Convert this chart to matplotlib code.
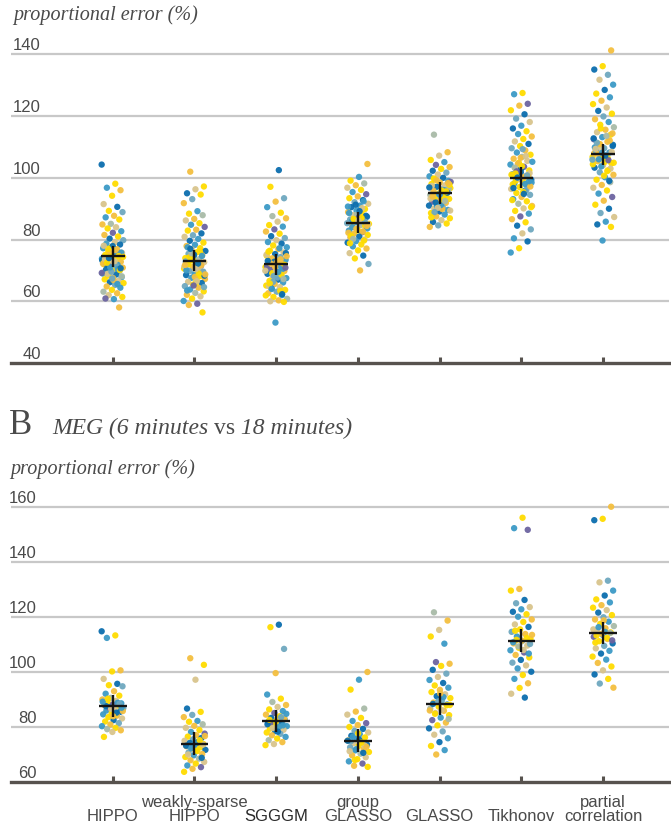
import matplotlib
matplotlib.use("Agg")
import matplotlib.pyplot as plt
import numpy as np
from matplotlib import transforms

# ---------------- data ----------------
categories = ["HIPPO", "weakly-sparse\nHIPPO", "SGGGM", "group\nGLASSO", "GLASSO", "Tikhonov", "partial\ncorrelation"]

# Panel A (top): proportional error (%) per method
A_hippo = [104.3, 98.1, 96.8, 96.0, 94.2, 91.5, 90.6, 89.3, 88.9, 87.7, 87.2, 86.5, 85.1, 84.9, 84.0, 83.6,
           82.7, 82.2, 81.5, 81.0, 80.3, 79.8, 79.1, 78.7, 78.4, 77.6, 77.2, 76.9, 76.1, 75.7, 75.4, 75.0,
           74.6, 74.1, 73.8, 73.5, 73.1, 72.8, 72.3, 72.0, 71.8, 71.3, 70.9, 70.6, 70.2, 69.9, 69.4, 69.0,
           68.7, 68.3, 67.8, 67.5, 67.1, 66.6, 66.2, 65.9, 65.3, 64.8, 64.4, 63.7, 63.1, 62.6, 62.0, 61.4,
           60.7, 60.9, 58.0, 74.9, 73.3, 71.6, 68.9, 75.8, 77.9, 72.6, 70.4,
           76.3, 74.4, 73.0, 71.9, 70.1, 69.6, 72.2, 75.3, 77.0, 68.1, 66.9, 73.7, 74.7, 71.0, 69.2, 76.6,
           72.5, 70.7, 67.4, 78.0, 65.6, 74.0]
A_wshippo = [102.0, 97.2, 96.3, 95.0, 94.6, 93.1, 91.8, 89.2, 88.4, 87.9, 86.7, 86.2, 85.3, 84.8, 84.1, 83.2,
             82.9, 82.0, 81.4, 80.9, 80.2, 79.6, 79.0, 78.3, 77.9, 77.2, 76.8, 76.3, 75.9, 75.4, 74.9, 74.5,
             74.0, 73.6, 73.2, 72.7, 72.4, 71.9, 71.5, 71.1, 70.6, 70.3, 69.8, 69.4, 68.9, 68.5, 68.1, 67.6,
             67.2, 66.8, 66.3, 65.9, 65.4, 64.9, 64.4, 63.8, 63.2, 62.7, 62.1, 61.6, 60.9, 60.1, 59.2, 58.8,
             56.4, 75.1, 72.9, 70.8, 73.9, 68.3, 66.0, 77.5, 71.7,
             73.4, 71.3, 72.2, 74.3, 69.6, 67.9, 70.0, 76.0, 75.6, 68.7, 66.5, 72.0, 74.7, 65.1, 71.8, 69.0,
             77.0, 64.6, 70.4, 63.5]
A_sgggm = [102.5, 97.1, 93.4, 92.3, 90.5, 88.7, 87.6, 86.9, 85.8, 84.7, 84.2, 83.3, 82.6, 81.9, 81.1, 80.5,
           79.8, 79.2, 78.7, 78.1, 77.5, 76.9, 76.4, 75.8, 75.3, 74.8, 74.3, 73.9, 73.4, 72.9, 72.5, 72.0,
           71.6, 71.1, 70.7, 70.2, 69.8, 69.3, 68.9, 68.4, 67.9, 67.5, 67.0, 66.6, 66.1, 65.6, 65.1, 64.6,
           64.2, 63.7, 63.1, 62.6, 62.0, 61.4, 60.8, 60.3, 60.0, 59.8, 53.1, 71.4, 73.6, 69.1, 75.6, 67.7,
           64.9, 70.5, 72.8, 61.9, 77.2,
           72.2, 71.8, 70.0, 73.1, 68.6, 66.3, 74.6, 69.5, 65.8, 67.2, 71.2, 75.1, 63.4, 64.0, 70.9, 72.6,
           76.1, 62.3, 68.2, 69.9]
A_gglasso = [104.5, 100.3, 99.1, 98.2, 97.6, 96.8, 96.1, 95.4, 94.7, 94.0, 93.4, 92.8, 92.1, 91.6, 91.0, 90.5,
             89.9, 89.4, 88.9, 88.4, 87.9, 87.4, 86.9, 86.5, 86.0, 85.6, 85.1, 84.7, 84.2, 83.8, 83.3, 82.9,
             82.4, 81.9, 81.5, 81.0, 80.5, 80.0, 79.5, 79.0, 78.4, 77.8, 77.1, 76.5, 75.6, 74.8, 73.9, 72.1,
             70.0, 85.9, 84.5, 88.1, 82.2, 90.2, 86.7, 83.6, 87.2, 80.8, 79.7, 91.3,
             85.3, 86.2, 84.0, 87.7, 83.0, 88.6, 82.6, 86.4, 84.9, 89.2, 81.2, 85.8, 83.5, 90.7, 87.0, 80.2,
             84.4, 86.1, 78.8, 92.4]
A_glasso = [114.0, 108.3, 107.2, 105.8, 105.1, 104.2, 103.5, 102.9, 102.3, 101.7, 101.1, 100.5, 100.0, 99.5,
            99.0, 98.5, 98.0, 97.6, 97.1, 96.7, 96.2, 95.8, 95.4, 94.9, 94.5, 94.1, 93.6, 93.2, 92.8, 92.3,
            91.9, 91.4, 91.0, 90.5, 90.1, 89.6, 89.1, 88.6, 88.1, 87.5, 86.9, 86.3, 85.7, 85.2, 84.6, 84.1,
            95.1, 93.9, 96.5, 92.6, 97.4, 94.3, 90.8, 98.7, 89.9, 99.8,
            95.2, 94.7, 93.3, 96.0, 92.0, 97.8, 91.2, 94.0, 95.6, 90.3, 96.9, 93.0, 88.9, 98.3, 94.6, 87.2,
            92.5, 99.2, 89.4, 95.9]
A_tikhonov = [127.5, 127.1, 124.0, 123.4, 121.9, 120.6, 119.2, 118.1, 116.9, 116.0, 115.1, 114.2, 113.4, 112.6,
              111.8, 111.0, 110.3, 109.6, 108.9, 108.2, 107.5, 106.8, 106.2, 105.5, 104.9, 104.3, 103.6, 103.0,
              102.4, 101.8, 101.2, 100.6, 100.0, 99.4, 98.8, 98.2, 97.6, 97.0, 96.4, 95.8, 95.1, 94.5, 93.8,
              93.1, 92.4, 91.6, 90.9, 90.1, 89.3, 88.4, 87.5, 86.6, 85.6, 84.5, 83.3, 82.0, 80.4, 79.4, 77.2,
              75.8, 100.3, 99.1, 101.5, 102.9, 97.9, 96.1, 104.6, 98.5, 95.4, 103.3,
              100.4, 99.7, 101.0, 98.0, 102.1, 97.2, 103.8, 96.7, 100.8, 99.9, 105.2, 94.8, 101.4, 98.9,
              106.5, 92.8, 107.1, 100.1, 90.5, 109.3]
A_partial = [141.3, 136.2, 135.1, 133.4, 131.8, 130.2, 128.5, 127.3, 126.1, 125.0, 123.9, 122.8, 121.7, 120.8,
             119.9, 119.0, 118.1, 117.2, 116.4, 115.6, 114.8, 114.0, 113.2, 112.5, 111.7, 111.0, 110.3, 109.6,
             108.9, 108.2, 107.5, 106.8, 106.1, 105.4, 104.7, 104.0, 103.3, 102.5, 101.8, 101.0, 100.2, 99.4,
             98.6, 97.7, 96.8, 95.9, 94.9, 93.8, 92.6, 91.3, 90.0, 88.6, 87.3, 85.8, 84.9, 84.1, 79.7, 107.9,
             106.4, 109.2, 110.7, 105.1, 108.6, 112.1, 103.7, 104.4, 113.6,
             107.7, 108.4, 106.6, 109.9, 105.7, 110.9, 104.9, 107.2, 111.4, 103.0, 108.1, 112.8, 102.2, 106.0,
             114.4, 100.7, 109.4, 99.0, 116.0, 105.9]
A_means = [74.6, 73.2, 72.0, 85.5, 95.0, 100.1, 107.6]
A_err = [3.4, 3.4, 3.4, 3.4, 3.5, 3.5, 3.5]

# Panel B (bottom): MEG (6 minutes vs 18 minutes)
B_hippo = [114.8, 113.3, 112.4, 100.6, 100.2, 97.5, 95.7, 95.2, 94.8, 93.0, 92.1, 91.4, 90.6, 90.0, 89.5, 89.0,
           88.6, 88.2, 87.9, 87.5, 87.2, 86.8, 86.4, 86.0, 85.5, 85.0, 84.6, 84.1, 83.6, 83.1, 82.5, 82.0,
           81.4, 80.9, 80.3, 79.7, 79.2, 78.8, 78.2, 76.4, 88.8, 87.1, 85.8, 84.3,
           87.6, 88.4, 86.6, 89.2, 85.2, 90.3, 87.0, 83.9]
B_wshippo = [105.0, 102.6, 97.2, 86.7, 85.5, 84.4, 83.6, 82.2, 81.9, 81.0, 80.4, 79.7, 78.9, 78.2, 77.6, 77.0,
             76.5, 76.0, 75.5, 75.0, 74.6, 74.2, 73.8, 73.4, 73.0, 72.6, 72.1, 71.7, 71.2, 70.7, 70.2, 69.7,
             69.1, 68.5, 67.9, 67.3, 66.7, 66.0, 65.4, 64.8, 63.7, 74.4, 72.9, 73.6,
             74.0, 73.2, 75.2, 72.3, 76.7, 71.4, 70.0, 68.8]
B_sgggm = [117.2, 116.3, 108.4, 99.6, 91.8, 90.3, 89.1, 88.0, 87.3, 86.4, 85.8, 85.1, 84.5, 83.9, 83.3, 82.8,
           82.3, 81.8, 81.3, 80.8, 80.3, 79.9, 79.4, 79.0, 78.5, 78.0, 77.5, 77.0, 76.4, 75.8, 75.2, 74.5,
           73.8, 73.4, 80.1, 81.6, 82.9,
           82.0, 81.0, 83.6, 79.6, 84.8, 78.3, 82.6, 80.6]
B_gglasso = [100.0, 97.2, 93.6, 86.7, 85.6, 84.5, 83.3, 82.2, 81.4, 80.7, 80.0, 79.3, 78.6, 78.0, 77.4, 76.8,
             76.2, 75.7, 75.1, 74.6, 74.1, 73.6, 73.1, 72.6, 72.0, 71.5, 70.9, 70.3, 69.7, 69.0, 68.3, 67.5,
             66.7, 65.9, 65.5, 75.4, 74.8, 73.3, 71.9,
             75.0, 74.3, 76.5, 72.8, 77.7, 71.2, 70.6, 68.0]
B_glasso = [121.7, 118.7, 115.3, 112.9, 110.3, 103.6, 103.0, 102.2, 100.8, 99.4, 98.2, 97.1, 96.0, 95.1, 94.3,
            93.5, 92.7, 91.9, 91.2, 90.5, 89.7, 88.9, 88.2, 87.4, 86.7, 85.9, 85.1, 84.3, 83.4, 82.5, 81.6,
            80.6, 79.5, 78.4, 77.2, 75.9, 74.5, 73.1, 71.6, 70.0, 88.0, 86.2,
            88.4, 87.9, 89.3, 86.0, 90.9, 84.8, 82.9, 92.2]
B_tikhonov = [156.1, 152.3, 151.7, 130.2, 129.6, 126.2, 125.0, 123.6, 122.8, 121.9, 121.0, 120.1, 119.1, 118.2,
              117.3, 116.4, 115.5, 114.6, 113.8, 112.9, 112.0, 111.2, 110.4, 109.6, 108.8, 107.9, 107.1, 106.2,
              105.3, 104.4, 103.4, 102.4, 101.3, 100.1, 98.9, 97.5, 95.9, 94.2, 92.1, 90.7, 111.7, 110.2,
              111.4, 110.8, 112.4, 109.3, 113.5, 108.0, 115.0, 106.7]
B_partial = [160.1, 155.7, 155.2, 133.2, 132.6, 129.6, 127.8, 126.4, 125.3, 124.3, 123.4, 122.5, 121.6, 120.7,
             119.9, 119.1, 118.3, 117.5, 116.7, 115.9, 115.1, 114.4, 113.6, 112.8, 112.0, 111.2, 110.4, 109.5,
             108.6, 107.7, 106.7, 105.6, 104.5, 103.3, 102.0, 100.6, 99.1, 97.5, 95.8, 94.3, 114.6, 113.3,
             114.2, 113.9, 115.5, 112.4, 116.3, 111.5, 118.8, 110.7]
B_means = [87.7, 74.0, 82.2, 75.0, 88.3, 111.4, 114.2]
B_err = [4.0, 4.2, 4.0, 4.1, 4.1, 4.3, 4.0]

A_ticks = [40, 60, 80, 100, 120, 140]
B_ticks = [60, 80, 100, 120, 140, 160]

# ---------------- style ----------------
point_colors = ['#0b6eae', '#3c9ac6', '#ffdc00', '#f4bf3f', '#d8c48c', '#6fa8bf', '#a9bba8', '#6c64a0']
color_seq = [0, 2, 1, 3, 2, 4, 0, 2, 5, 3, 1, 2, 6, 3, 4, 2, 1, 7, 3, 2, 0, 5, 4, 1]
grid_c = '#c8c8c8'
spine_c = '#57524e'
text_c = '#4a4a4a'
SANS = ['Liberation Sans', 'DejaVu Sans']
SERIF = ['Liberation Serif', 'DejaVu Serif']

W, H = 671, 825
fig = plt.figure(figsize=(W / 100, H / 100), dpi=100)


def px_axes(left, top, right, bottom):
    return [left / W, 1 - bottom / H, (right - left) / W, (bottom - top) / H]


def draw_panel(ax, series, means, errs, ticks, ylim, label_right_px, cross_hw):
    ax.set_xlim(-1.244, 6.805)
    ax.set_ylim(*ylim)
    for s in ['left', 'right', 'top']:
        ax.spines[s].set_visible(False)
    ax.spines['bottom'].set_color(spine_c)
    ax.spines['bottom'].set_linewidth(2.4)
    ax.set_yticks([])
    ax.set_xticks(range(len(series)))
    ax.tick_params(axis='x', direction='in', length=4, width=2.2, color=spine_c, labelbottom=False)
    for t in ticks[1:]:
        ax.axhline(t, color=grid_c, lw=1.6, zorder=0)
    trans = transforms.blended_transform_factory(ax.transAxes, ax.transData)
    off = transforms.ScaledTranslation(0, 4 / 100, fig.dpi_scale_trans)
    for t in ticks:
        ax.text(label_right_px / 658, t, str(t), transform=trans + off, ha='right', va='baseline',
                fontsize=12, family=SANS, color=text_c)
    for ci, vals in enumerate(series):
        vals = np.asarray(vals)
        n = len(vals)
        idx = np.arange(n)
        u = (idx * 0.618034 + ci * 0.31) % 1.0 - 0.5
        jit = u * 0.27
        cols = [point_colors[color_seq[(i + 3 * ci) % len(color_seq)]] for i in range(n)]
        ax.scatter(ci + jit, vals, s=21, c=cols, linewidths=0, zorder=2, alpha=0.95)
        m, e = means[ci], errs[ci]
        ax.plot([ci - cross_hw, ci + cross_hw], [m, m], color='#151515', lw=1.7, zorder=3,
                solid_capstyle='butt')
        ax.plot([ci, ci], [m - e, m + e], color='#151515', lw=1.7, zorder=3, solid_capstyle='butt')


axA = fig.add_axes(px_axes(11, 39, 669, 363))
draw_panel(axA, [A_hippo, A_wshippo, A_sgggm, A_gglasso, A_glasso, A_tikhonov, A_partial],
           A_means, A_err, A_ticks, (40, 145), 30, 0.145)

axB = fig.add_axes(px_axes(11, 493.25, 669, 782))
draw_panel(axB, [B_hippo, B_wshippo, B_sgggm, B_gglasso, B_glasso, B_tikhonov, B_partial],
           B_means, B_err, B_ticks, (60, 165), 26, 0.17)

# x category labels (bottom panel): last-line baseline aligned
transB = transforms.blended_transform_factory(axB.transData, fig.transFigure)
for ci, lab in enumerate(categories):
    col = '#2a2a2a' if lab == 'SGGGM' else text_c
    axB.text(ci, 1 - 821 / H, lab, transform=transB, ha='center', va='baseline', fontsize=12,
             family=SANS, color=col, linespacing=0.92, multialignment='center')

# axis titles
fig.text(13 / W, 1 - 15 / H, "proportional error (%)", ha='left', va='center', fontsize=14.5,
         family=SERIF, style='italic', color=text_c)
fig.text(10 / W, 1 - 469 / H, "proportional error (%)", ha='left', va='center', fontsize=14.5,
         family=SERIF, style='italic', color=text_c)

# panel B title
fig.text(9 / W, 1 - 425 / H, "B", ha='left', va='center', fontsize=25, family=SERIF, color=text_c)
renderer = fig.canvas.get_renderer()
x = 52 / W
ty = 1 - 428 / H
parts = [("MEG (6 minutes ", 'italic'), ("vs", 'normal'), (" 18 minutes)", 'italic')]
for txt, sty in parts:
    t = fig.text(x, ty, txt, ha='left', va='center', fontsize=17, family=SERIF, style=sty, color=text_c)
    bb = t.get_window_extent(renderer=renderer)
    x = bb.x1 / W

fig.savefig("out.png", dpi=100)
